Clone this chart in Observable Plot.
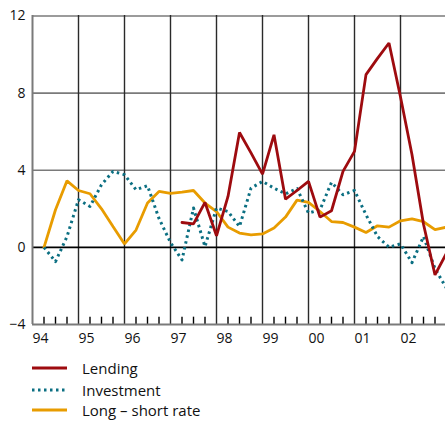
<!DOCTYPE html>
<html>
<head>
<meta charset="utf-8">
<script src="https://cdn.jsdelivr.net/npm/d3@7"></script>
<script src="https://cdn.jsdelivr.net/npm/@observablehq/plot@0.6"></script>
<style>
  html, body { margin: 0; padding: 0; background: #fff; }
  #wrap { position: relative; width: 445px; height: 421px; font-family: "Open Sans", sans-serif; }
  .row { position: absolute; left: 32px; height: 20px; display: flex; align-items: center; font-size: 15px; color: #111; }
  .row svg { margin-right: 15px; }
</style>
</head>
<body>
<div id="wrap">
  <div id="chart"></div>
  <div id="legend"></div>
</div>
<script>
// Quarters (plotted at end of quarter)
const quarters = [
  "1994Q1","1994Q2","1994Q3","1994Q4",
  "1995Q1","1995Q2","1995Q3","1995Q4",
  "1996Q1","1996Q2","1996Q3","1996Q4",
  "1997Q1","1997Q2","1997Q3","1997Q4",
  "1998Q1","1998Q2","1998Q3","1998Q4",
  "1999Q1","1999Q2","1999Q3","1999Q4",
  "2000Q1","2000Q2","2000Q3","2000Q4",
  "2001Q1","2001Q2","2001Q3","2001Q4",
  "2002Q1","2002Q2","2002Q3","2002Q4"
];
const lending = [
  null, null, null, null,
  null, null, null, null,
  null, null, null, null,
  1.29, 1.22, 2.33, 0.6,
  2.64, 5.96, 4.9, 3.8,
  5.84, 2.5, 2.95, 3.42,
  1.57, 1.9, 3.94, 4.98,
  8.96, 9.8, 10.6, 7.8,
  4.8, 1.2, -1.43, -0.3
];
const investment = [
  0.0, -0.74, 0.56, 2.47,
  2.12, 3.25, 3.94, 3.77,
  2.99, 3.2, 1.5, 0.25,
  -0.65, 2.04, 0.04, 2.04,
  1.86, 1.08, 3.07, 3.42,
  3.07, 2.78, 3.05, 1.78,
  1.95, 3.37, 2.73, 2.95,
  1.69, 0.56, 0.01, 0.18,
  -0.79, 0.56, -1.1, -2.12
];
const longShort = [
  0.0, 1.95, 3.45, 2.95,
  2.78, 2.0, 1.08, 0.18,
  0.9, 2.3, 2.9, 2.8,
  2.87, 2.95, 2.3, 1.86,
  1.05, 0.74, 0.65, 0.7,
  1.0, 1.57, 2.45, 2.33,
  1.86, 1.34, 1.29, 1.05,
  0.77, 1.12, 1.05, 1.38,
  1.48, 1.33, 0.92, 1.05
];
const years = [1994, 1995, 1996, 1997, 1998, 1999, 2000, 2001, 2002];
const yearLabels = ["94", "95", "96", "97", "98", "99", "00", "01", "02"];
const yTicks = [-4, 0, 4, 8, 12];

const seriesNames = ["Lending", "Investment", "Long \u2013 short rate"];
const colors = { lending: "#9e0b0f", investment: "#0b6f82", longShort: "#e89c00" };

const qTime = q => +q.slice(0, 4) + (+q.slice(5)) / 4;
const rows = (vals) => quarters.map((q, i) => ({ t: qTime(q), v: vals[i] }));
const quarterTicks = years.flatMap(y => [y + 0.25, y + 0.5, y + 0.75]);

const chart = Plot.plot({
  width: 445,
  height: 350,
  marginLeft: 32,
  marginRight: 0,
  marginTop: 15,
  marginBottom: 26,
  style: { fontFamily: "Open Sans, sans-serif", fontSize: "14px", color: "#111", background: "white" },
  x: { domain: [1994, 2003], range: [32, 446], label: null },
  y: { domain: [-4, 12], range: [324, 15.5], label: null },
  marks: [
    Plot.ruleY([4, 8, 12], { stroke: "#7a7a7a", strokeWidth: 1.6 }),
    Plot.ruleX(years.slice(1), { stroke: "#2a2a2a", strokeWidth: 1.4 }),
    Plot.ruleY([0], { stroke: "#000", strokeWidth: 1.8 }),
    Plot.ruleX(quarterTicks, { y1: -4, y2: -3.62, stroke: "#000", strokeWidth: 1.4 }),
    Plot.ruleX([1994], { stroke: "#7a7a7a", strokeWidth: 2 }),
    Plot.ruleY([-4], { stroke: "#7a7a7a", strokeWidth: 2 }),
    Plot.axisY({ ticks: yTicks, tickSize: 0, tickPadding: 7, fontSize: 14, label: null,
      tickFormat: d => d < 0 ? "\u2212" + Math.abs(d) : String(d) }),
    Plot.axisX({ ticks: years, tickSize: 0, tickPadding: 9, textAnchor: "start", fontSize: 14, label: null,
      tickFormat: d => yearLabels[years.indexOf(d)] }),
    Plot.line(rows(longShort), { x: "t", y: "v", stroke: colors.longShort, strokeWidth: 2.8, strokeLinejoin: "miter" }),
    Plot.line(rows(investment), { x: "t", y: "v", stroke: colors.investment, strokeWidth: 3, strokeDasharray: "2.5,3.5", strokeLinecap: "butt" }),
    Plot.line(rows(lending), { x: "t", y: "v", defined: d => d.v != null, stroke: colors.lending, strokeWidth: 2.8, strokeLinejoin: "miter" })
  ]
});
document.getElementById("chart").appendChild(chart);

const legend = document.getElementById("legend");
const legendItems = [
  { name: seriesNames[0], color: colors.lending, dash: null },
  { name: seriesNames[1], color: colors.investment, dash: "2.5,3.5" },
  { name: seriesNames[2], color: colors.longShort, dash: null }
];
const rowY = [358, 380, 400];
legendItems.forEach((it, i) => {
  const row = document.createElement("div");
  row.className = "row";
  row.style.top = rowY[i] + "px";
  row.innerHTML = `<svg width="35" height="6"><line x1="0" x2="35" y1="3" y2="3" stroke="${it.color}" stroke-width="3" ${it.dash ? `stroke-dasharray="${it.dash}"` : ""}/></svg><span>${it.name}</span>`;
  legend.appendChild(row);
});
</script>
</body>
</html>
